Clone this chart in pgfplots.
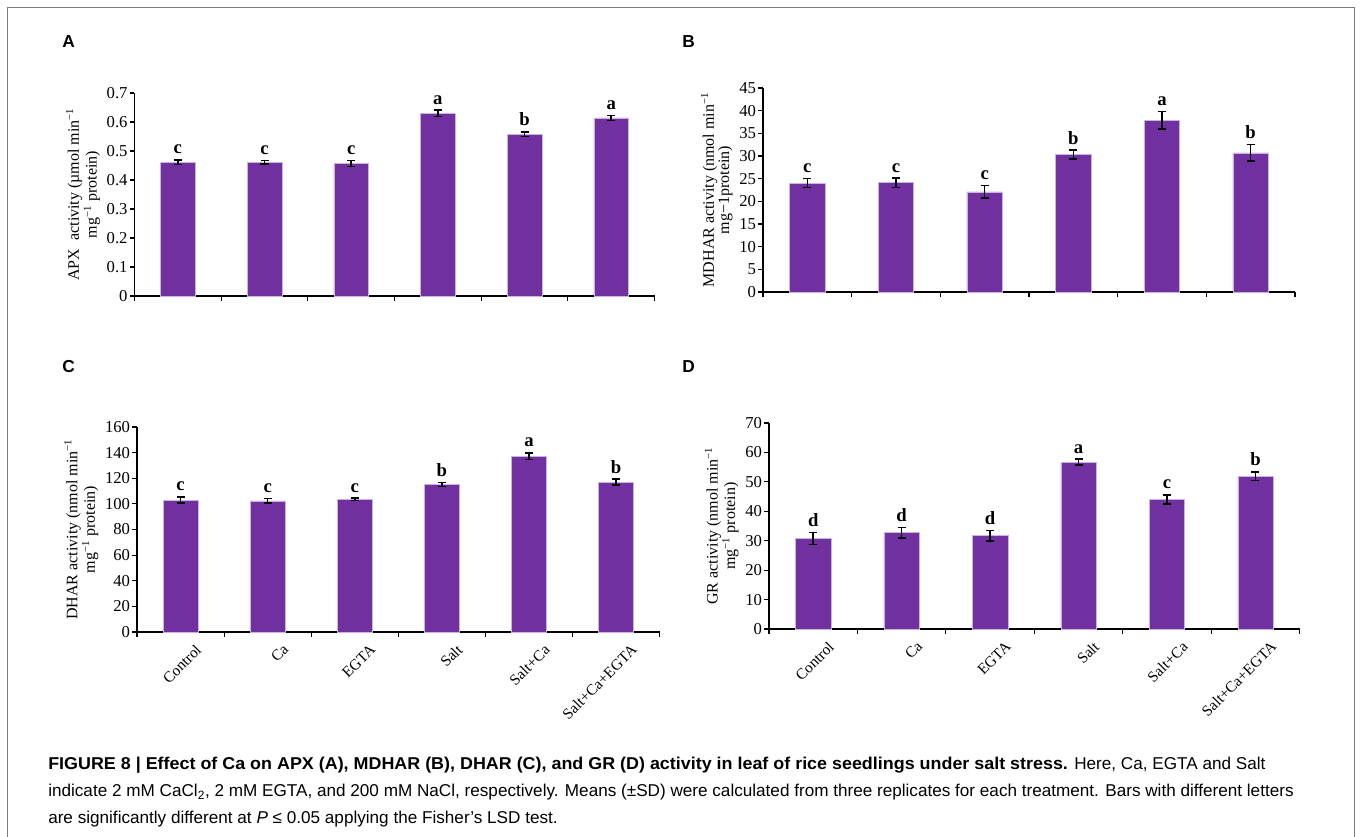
\documentclass[border=0pt]{standalone}
\usepackage{fontspec}
\setmainfont{Liberation Serif}
\newfontfamily\capfont{Liberation Sans}
\newfontface\capbold{Liberation Sans Bold}[FakeStretch=1.045]
\usepackage{pgfplots}
\usepackage{pgfplotstable}
\pgfplotsset{compat=1.18}
\definecolor{barpurple}{HTML}{7030A0}
\definecolor{baredge}{HTML}{C8B4DC}
\definecolor{framegray}{HTML}{7A7A7A}

\pgfplotstableread{
x y e l
0 0.461 0.008 c
1 0.461 0.006 c
2 0.457 0.011 c
3 0.630 0.011 a
4 0.558 0.008 b
5 0.614 0.008 a
}\dataA
\pgfplotstableread{
x y e l
0 24.0 1.0 c
1 24.1 1.0 c
2 22.1 1.4 c
3 30.3 1.0 b
4 37.9 1.9 a
5 30.7 1.8 b
}\dataB
\pgfplotstableread{
x y e l
0 103.0 2.5 c
1 102.3 1.8 c
2 103.5 1.0 c
3 115.0 1.5 b
4 137.2 2.5 a
5 117.0 2.3 b
}\dataC
\pgfplotstableread{
x y e l
0 30.7 2.0 d
1 32.7 1.8 d
2 31.7 1.8 d
3 56.7 1.0 a
4 44.0 1.6 c
5 51.9 1.5 b
}\dataD

\pgfplotsset{
  panel/.style={
    scale only axis,
    axis lines*=left,
    axis line style={black, line width=1.1pt},
    xmin=-0.5, xmax=5.5, ymin=0,
    xtick={-0.5,0.5,...,5.5},
    xticklabels={},
    tick align=outside,
    major tick length=3.5pt,
    tick style={black, line width=0.9pt},
    yticklabel style={font=\fontsize{12.5}{13}\selectfont, /pgf/number format/fixed, inner sep=1.5pt},
    /pgf/number format/assume math mode=true,
    ylabel style={font=\fontsize{12}{11.5}\selectfont, align=center, xshift=0pt},
    clip=false,
  },
  catlabels/.style={
    extra x ticks={0,1,2,3,4,5},
    extra x tick labels={Control,Ca,EGTA,Salt,Salt+Ca,Salt+Ca+EGTA},
    extra x tick style={major tick length=0pt,
      tick label style={xshift=15pt, yshift=-10pt, rotate=45, anchor=east,
        font=\fontsize{11.5}{12}\selectfont, inner sep=2pt}},
  },
  bars/.style={
    ybar, bar width=0.4, fill=barpurple, draw=baredge, line width=0.4pt,
    error bars/.cd, y dir=both, y explicit,
    error bar style={black, line width=1.1pt},
    error mark options={rotate=90, mark size=3pt, black, line width=1.1pt},
  },
  letters/.style={
    only marks, mark=none, nodes near coords, point meta=explicit symbolic,
    nodes near coords style={anchor=base, yshift=4.5pt, inner sep=0pt,
      font=\bfseries\fontsize{14}{14}\selectfont, black},
  },
}

\begin{document}
\begin{tikzpicture}[x=0.75pt, y=0.75pt]
\useasboundingbox (0,0) rectangle (1360,837);
\draw[framegray, line width=1.1pt] (7.5,0) -- (7.5,829.5) -- (1354.5,829.5) -- (1354.5,0);
\coordinate (pA) at (134.5,541);
\coordinate (pB) at (763,545);
\coordinate (pC) at (137,205);
\coordinate (pD) at (769,208);

\node[anchor=base west, inner sep=0, font=\capfont\bfseries\fontsize{13}{13}\selectfont] at (62,789.5) {A};
\node[anchor=base west, inner sep=0, font=\capfont\bfseries\fontsize{13}{13}\selectfont] at (682,789.5) {B};
\node[anchor=base west, inner sep=0, font=\capfont\bfseries\fontsize{13}{13}\selectfont] at (62,464) {C};
\node[anchor=base west, inner sep=0, font=\capfont\bfseries\fontsize{13}{13}\selectfont] at (682,464) {D};

% Panel A
\begin{axis}[panel, at={(pA)}, anchor=south west,
  width=390pt, height=152.25pt, ymax=0.7, ytick={0,0.1,...,0.7},
  ylabel={APX\ \ activity (µmol min\textsuperscript{−1}\\mg\textsuperscript{−1} protein)}]
\addplot[bars] table[x=x, y=y, y error=e] {\dataA};
\addplot[letters] table[x=x, y expr=\thisrow{y}+\thisrow{e}, meta=l] {\dataA};
\end{axis}

% Panel B
\begin{axis}[panel, at={(pB)}, anchor=south west,
  width=399pt, height=153pt, ymax=45, ytick={0,5,...,45},
  ylabel={MDHAR activity (nmol min\textsuperscript{−1}\\mg−1protein)}]
\addplot[bars] table[x=x, y=y, y error=e] {\dataB};
\addplot[letters] table[x=x, y expr=\thisrow{y}+\thisrow{e}, meta=l] {\dataB};
\end{axis}

% Panel C
\begin{axis}[panel, catlabels, at={(pC)}, anchor=south west,
  width=392pt, height=153.75pt, ymax=160, ytick={0,20,...,160},
  ylabel={DHAR activity (nmol min\textsuperscript{−1}\\mg\textsuperscript{−1} protein)}]
\addplot[bars] table[x=x, y=y, y error=e] {\dataC};
\addplot[letters] table[x=x, y expr=\thisrow{y}+\thisrow{e}, meta=l] {\dataC};
\end{axis}

% Panel D
\begin{axis}[panel, catlabels, at={(pD)}, anchor=south west,
  width=398pt, height=154.5pt, ymax=70, ytick={0,10,...,70},
  ylabel={GR activity (nmol min\textsuperscript{−1}\\mg\textsuperscript{−1} protein)}]
\addplot[bars] table[x=x, y=y, y error=e] {\dataD};
\addplot[letters] table[x=x, y expr=\thisrow{y}+\thisrow{e}, meta=l] {\dataD};
\end{axis}

\node[anchor=north west, align=left, inner sep=0,
  font=\capfont\fontsize{12.85}{20.25}\selectfont] at (48,80)
{{\capbold FIGURE 8 | Effect of Ca on APX (A), MDHAR (B), DHAR (C), and GR (D) activity in leaf of rice seedlings under salt stress.} Here, Ca, EGTA and Salt\\
indicate 2 mM CaCl\textsubscript{2}, 2 mM EGTA, and 200 mM NaCl, respectively. Means (±SD) were calculated from three replicates for each treatment. Bars with different letters\\
are significantly different at \textit{P} ≤ 0.05 applying the Fisher’s LSD test.};
\end{tikzpicture}
\end{document}
